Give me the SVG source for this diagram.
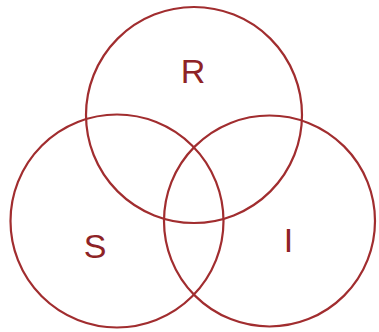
<svg xmlns="http://www.w3.org/2000/svg" width="379" height="332" viewBox="0 0 379 332">
<style>
.c{fill:none;stroke:#a12d2f;stroke-width:2.2}
.t{font-family:"Liberation Sans",Arial,sans-serif;font-size:34px;fill:#8e2326;text-anchor:middle}
</style>
<rect width="379" height="332" fill="#fff"/>
<g id="R"><circle class="c" cx="194" cy="115" r="108"/><text class="t" x="193" y="83">R</text></g>
<g id="S"><circle class="c" cx="117" cy="221" r="106.5"/><text class="t" x="95" y="258">S</text></g>
<g id="I"><circle class="c" cx="269.5" cy="221" r="105.5"/><text class="t" x="288.5" y="252">I</text></g>
</svg>
